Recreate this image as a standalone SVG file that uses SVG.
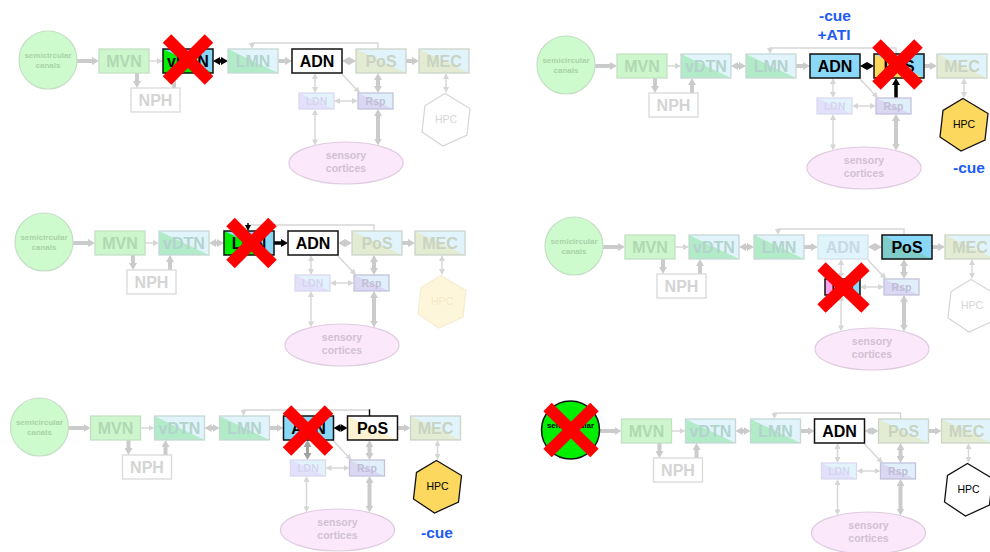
<svg xmlns="http://www.w3.org/2000/svg" width="990" height="552" viewBox="0 0 990 552">
<style>
text{font-family:"Liberation Sans",Arial,Helvetica,sans-serif;text-anchor:middle}
.lb{font-size:16px;font-weight:bold}
.sl{font-size:10.5px;font-weight:bold}
.hx{font-size:10.5px}
.cn{font-size:8px;font-weight:bold}
.se{font-size:10.5px;font-weight:bold}
.cue{font-size:15.5px;font-weight:bold;fill:#1f5cf6}
.k{fill:none;stroke:#cbcbcb;stroke-width:4}
.t{fill:none;stroke:#d6d6d6;stroke-width:1.4}
.kb{fill:none;stroke:#000;stroke-width:3.5}
.tb{fill:none;stroke:#000;stroke-width:1.4}
.km{fill:none;stroke:#a2a2a2;stroke-width:3}
.on{stroke:#111;stroke-width:1.5}
.onf{fill:none;stroke:#111;stroke-width:1.5}
.fb{fill:none;stroke-width:1.3}
.xm line{stroke:#ff0000;stroke-width:12}
</style>
<defs>
<marker id="hg" markerUnits="userSpaceOnUse" markerWidth="8" markerHeight="8" refX="1" refY="4" orient="auto-start-reverse"><path d="M0,0L7,4L0,8Z" fill="#cbcbcb"/></marker>
<marker id="hk" markerUnits="userSpaceOnUse" markerWidth="8" markerHeight="8" refX="1" refY="4" orient="auto-start-reverse"><path d="M0,0L7,4L0,8Z" fill="#000"/></marker>
<marker id="hm" markerUnits="userSpaceOnUse" markerWidth="8" markerHeight="8" refX="1" refY="4" orient="auto-start-reverse"><path d="M0,0L7,4L0,8Z" fill="#a2a2a2"/></marker>
<marker id="sg" markerUnits="userSpaceOnUse" markerWidth="6" markerHeight="6" refX="1" refY="3" orient="auto-start-reverse"><path d="M0,0L6,3L0,6Z" fill="#d6d6d6"/></marker>
<marker id="sk" markerUnits="userSpaceOnUse" markerWidth="6" markerHeight="6" refX="1" refY="3" orient="auto-start-reverse"><path d="M0,0L6,3L0,6Z" fill="#000"/></marker>
</defs>

<!-- ===== Panel 1: vDTN lesion ===== -->
<g id="panel-1">
<g id="p1-connectors">
<path class="k" d="M77,61H93" marker-end="url(#hg)"/>
<path class="t" d="M149,61H158" marker-end="url(#sg)"/>
<path class="k" d="M137,73V82" marker-end="url(#hg)"/>
<path class="k" d="M174,88V79" marker-end="url(#hg)"/>
<path class="kb" d="M219,61H222" marker-start="url(#hk)" marker-end="url(#hk)"/>
<path class="k" d="M277,61H286" marker-end="url(#hg)"/>
<path class="k" d="M348,61H350" marker-start="url(#hg)" marker-end="url(#hg)"/>
<path class="k" d="M406,61H413" marker-end="url(#hg)"/>
<path class="t" d="M378,49V43H252V44" marker-end="url(#sg)"/>
<path class="t" d="M315,78V88" marker-start="url(#sg)" marker-end="url(#sg)"/>
<path class="t" d="M342,74L356.6,89.4" marker-end="url(#sg)"/>
<path class="k" d="M378,79V87" marker-start="url(#hg)" marker-end="url(#hg)"/>
<path class="t" d="M339,101H353" marker-start="url(#sg)" marker-end="url(#sg)"/>
<path class="t" d="M315,114V140.4" marker-start="url(#sg)" marker-end="url(#sg)"/>
<path class="k" d="M378,115V139.6" marker-start="url(#hg)" marker-end="url(#hg)"/>
<path class="t" d="M446,78V88" marker-start="url(#sg)" marker-end="url(#sg)"/>
</g>
<g id="p1-canals"><circle cx="48" cy="60" r="29" fill="#cdfbcd" stroke="#c5dfc5" stroke-width="1.2"/><text class="cn" x="48" y="58" fill="#a9d2a9">semicircular</text><text class="cn" x="48" y="68" fill="#a9d2a9">canals</text></g>
<g id="p1-mvn"><rect x="99" y="49" width="50" height="24" fill="#cdf6cd" stroke="#c3e0c3" stroke-width="1.3"/><text class="lb" x="124" y="66.7" fill="#b1d8b1">MVN</text></g>
<g id="p1-nph"><rect x="131" y="88" width="49" height="24" fill="#fff" stroke="#d9d9d9" stroke-width="1.3"/><text class="lb" x="155.5" y="105.7" fill="#d4d4d4">NPH</text></g>
<g id="p1-vdtn"><rect x="163" y="49" width="50" height="24" fill="#8ad8f8"/><path d="M163,49L213,73H163Z" fill="#00ee00"/><rect x="163" y="49" width="50" height="24" class="onf"/><text class="lb" x="188" y="66.7" fill="#000">vDTN</text></g>
<g id="p1-lmn"><rect x="228" y="49" width="50" height="24" fill="#e1f4fb"/><path d="M228,49L278,73H228Z" fill="#b2ebc7"/><rect x="228" y="49" width="50" height="24" class="fb" stroke="#c5d8d4"/><text class="lb" x="253" y="66.7" fill="#b3d3cd">LMN</text></g>
<g id="p1-adn"><rect x="292" y="49" width="50" height="24" fill="#fff" class="on"/><text class="lb" x="317" y="66.7" fill="#000">ADN</text></g>
<g id="p1-pos"><rect x="356" y="49" width="50" height="24" fill="#e1f4fb"/><path d="M356,49L406,73H356Z" fill="#e3ebd3"/><rect x="356" y="49" width="50" height="24" class="fb" stroke="#cbd5c8"/><text class="lb" x="381" y="66.7" fill="#c8d3c2">PoS</text></g>
<g id="p1-mec"><rect x="419" y="49" width="50" height="24" fill="#e1f4fb"/><path d="M419,49L469,73H419Z" fill="#e3ebd3"/><rect x="419" y="49" width="50" height="24" class="fb" stroke="#cbd5c8"/><text class="lb" x="444" y="66.7" fill="#c8d3c2">MEC</text></g>
<g id="p1-ldn"><rect x="299" y="93" width="35" height="16" fill="#e3f3fc"/><path d="M299,93L334,109H299Z" fill="#e3e0fb"/><rect x="299" y="93" width="35" height="16" class="fb" stroke="#d9d9f0"/><text class="sl" x="316.5" y="104.5" fill="#d5d5f0">LDN</text></g>
<g id="p1-rsp"><rect x="358" y="93" width="35" height="16" fill="#e0effa"/><path d="M358,93L393,109H358Z" fill="#dad7f3"/><rect x="358" y="93" width="35" height="16" class="fb" stroke="#c4c2da"/><text class="sl" x="375.5" y="104.5" fill="#c0bdd6">Rsp</text></g>
<g id="p1-hpc"><polygon points="445,93.5 470,108.5 467,135 443,146 422,132 425,105.5" fill="#fff" stroke="#d5d5d5" stroke-width="1.2"/><text class="hx" x="446" y="123.3" fill="#d6d6d6">HPC</text></g>
<g id="p1-sensory"><ellipse cx="346" cy="163" rx="57" ry="21" fill="#fbe8fb" stroke="#dfcbe0" stroke-width="1.2"/><text class="se" x="346" y="158.5" fill="#d1c1d3">sensory</text><text class="se" x="346" y="171.5" fill="#d1c1d3">cortices</text></g>
<g class="xm" transform="translate(188,59.5)"><line x1="-21" y1="-21" x2="21" y2="21"/><line x1="21" y1="-21" x2="-21" y2="21"/></g>
</g>

<!-- ===== Panel 2: PoS lesion ===== -->
<g id="panel-2" transform="translate(518,5)">
<g id="p2-connectors">
<path class="k" d="M77,61H93" marker-end="url(#hg)"/>
<path class="t" d="M149,61H158" marker-end="url(#sg)"/>
<path class="k" d="M137,73V82" marker-end="url(#hg)"/>
<path class="k" d="M174,88V79" marker-end="url(#hg)"/>
<path class="k" d="M219,61H222" marker-start="url(#hg)" marker-end="url(#hg)"/>
<path class="k" d="M277,61H286" marker-end="url(#hg)"/>
<path class="kb" d="M348,61H350" marker-start="url(#hk)" marker-end="url(#hk)"/>
<path class="k" d="M406,61H413" marker-end="url(#hg)"/>
<path class="t" d="M378,49V43H252V44" marker-end="url(#sg)"/>
<path class="t" d="M315,78V88" marker-start="url(#sg)" marker-end="url(#sg)"/>
<path class="t" d="M342,74L356.6,89.4" marker-end="url(#sg)"/>
<path class="kb" d="M378,93V79" marker-end="url(#hk)"/>
<path class="t" d="M339,101H353" marker-start="url(#sg)" marker-end="url(#sg)"/>
<path class="t" d="M315,114V140.4" marker-start="url(#sg)" marker-end="url(#sg)"/>
<path class="k" d="M378,115V139.6" marker-start="url(#hg)" marker-end="url(#hg)"/>
<path class="t" d="M446,78V88" marker-start="url(#sg)" marker-end="url(#sg)"/>
</g>
<g id="p2-canals"><circle cx="48" cy="60" r="29" fill="#cdfbcd" stroke="#c5dfc5" stroke-width="1.2"/><text class="cn" x="48" y="58" fill="#a9d2a9">semicircular</text><text class="cn" x="48" y="68" fill="#a9d2a9">canals</text></g>
<g id="p2-mvn"><rect x="99" y="49" width="50" height="24" fill="#cdf6cd" stroke="#c3e0c3" stroke-width="1.3"/><text class="lb" x="124" y="66.7" fill="#b1d8b1">MVN</text></g>
<g id="p2-nph"><rect x="131" y="88" width="49" height="24" fill="#fff" stroke="#d9d9d9" stroke-width="1.3"/><text class="lb" x="155.5" y="105.7" fill="#d4d4d4">NPH</text></g>
<g id="p2-vdtn"><rect x="163" y="49" width="50" height="24" fill="#e1f4fb"/><path d="M163,49L213,73H163Z" fill="#b2ebc7"/><rect x="163" y="49" width="50" height="24" class="fb" stroke="#c5d8d4"/><text class="lb" x="188" y="66.7" fill="#b3d3cd">vDTN</text></g>
<g id="p2-lmn"><rect x="228" y="49" width="50" height="24" fill="#e1f4fb"/><path d="M228,49L278,73H228Z" fill="#b2ebc7"/><rect x="228" y="49" width="50" height="24" class="fb" stroke="#c5d8d4"/><text class="lb" x="253" y="66.7" fill="#b3d3cd">LMN</text></g>
<g id="p2-adn"><rect x="292" y="49" width="50" height="24" fill="#8ad8f8" class="on"/><text class="lb" x="317" y="66.7" fill="#000">ADN</text></g>
<g id="p2-pos"><rect x="356" y="49" width="50" height="24" fill="#8ad8f8"/><path d="M356,49L406,73H356Z" fill="#fdd85f"/><rect x="356" y="49" width="50" height="24" class="onf"/><text class="lb" x="381" y="66.7" fill="#000">PoS</text></g>
<g id="p2-mec"><rect x="419" y="49" width="50" height="24" fill="#e1f4fb"/><path d="M419,49L469,73H419Z" fill="#e3ebd3"/><rect x="419" y="49" width="50" height="24" class="fb" stroke="#cbd5c8"/><text class="lb" x="444" y="66.7" fill="#c8d3c2">MEC</text></g>
<g id="p2-ldn"><rect x="299" y="93" width="35" height="16" fill="#e3f3fc"/><path d="M299,93L334,109H299Z" fill="#e3e0fb"/><rect x="299" y="93" width="35" height="16" class="fb" stroke="#d9d9f0"/><text class="sl" x="316.5" y="104.5" fill="#d5d5f0">LDN</text></g>
<g id="p2-rsp"><rect x="358" y="93" width="35" height="16" fill="#e0effa"/><path d="M358,93L393,109H358Z" fill="#dad7f3"/><rect x="358" y="93" width="35" height="16" class="fb" stroke="#c4c2da"/><text class="sl" x="375.5" y="104.5" fill="#c0bdd6">Rsp</text></g>
<g id="p2-hpc"><polygon points="445,93.5 470,108.5 467,135 443,146 422,132 425,105.5" fill="#fdd85f" stroke="#111" stroke-width="1.3"/><text class="hx" x="446" y="123.3" fill="#000">HPC</text></g>
<g id="p2-sensory"><ellipse cx="346" cy="163" rx="57" ry="21" fill="#fbe8fb" stroke="#dfcbe0" stroke-width="1.2"/><text class="se" x="346" y="158.5" fill="#d1c1d3">sensory</text><text class="se" x="346" y="171.5" fill="#d1c1d3">cortices</text></g>
<text class="cue" x="317" y="16">-cue</text>
<text class="cue" x="316" y="35">+ATI</text>
<text class="cue" x="451" y="168">-cue</text>
<g class="xm" transform="translate(379.5,59.5)"><line x1="-21" y1="-21" x2="21" y2="21"/><line x1="21" y1="-21" x2="-21" y2="21"/></g>
</g>

<!-- ===== Panel 3: LMN lesion ===== -->
<g id="panel-3" transform="translate(-4,182)">
<g id="p3-connectors">
<path class="k" d="M77,61H93" marker-end="url(#hg)"/>
<path class="t" d="M149,61H158" marker-end="url(#sg)"/>
<path class="k" d="M137,73V82" marker-end="url(#hg)"/>
<path class="k" d="M174,88V79" marker-end="url(#hg)"/>
<path class="k" d="M219,61H222" marker-start="url(#hg)" marker-end="url(#hg)"/>
<path class="kb" d="M277,61H286" marker-end="url(#hk)"/>
<path class="k" d="M348,61H350" marker-start="url(#hg)" marker-end="url(#hg)"/>
<path class="k" d="M406,61H413" marker-end="url(#hg)"/>
<path class="t" d="M378,49V43H252"/>
<path class="tb" d="M252,41V44" marker-end="url(#sk)"/>
<path class="t" d="M315,78V88" marker-start="url(#sg)" marker-end="url(#sg)"/>
<path class="t" d="M342,74L356.6,89.4" marker-end="url(#sg)"/>
<path class="k" d="M378,79V87" marker-start="url(#hg)" marker-end="url(#hg)"/>
<path class="t" d="M339,101H353" marker-start="url(#sg)" marker-end="url(#sg)"/>
<path class="t" d="M315,114V140.4" marker-start="url(#sg)" marker-end="url(#sg)"/>
<path class="k" d="M378,115V139.6" marker-start="url(#hg)" marker-end="url(#hg)"/>
<path class="t" d="M446,78V88" marker-start="url(#sg)" marker-end="url(#sg)"/>
</g>
<g id="p3-canals"><circle cx="48" cy="60" r="29" fill="#cdfbcd" stroke="#c5dfc5" stroke-width="1.2"/><text class="cn" x="48" y="58" fill="#a9d2a9">semicircular</text><text class="cn" x="48" y="68" fill="#a9d2a9">canals</text></g>
<g id="p3-mvn"><rect x="99" y="49" width="50" height="24" fill="#cdf6cd" stroke="#c3e0c3" stroke-width="1.3"/><text class="lb" x="124" y="66.7" fill="#b1d8b1">MVN</text></g>
<g id="p3-nph"><rect x="131" y="88" width="49" height="24" fill="#fff" stroke="#d9d9d9" stroke-width="1.3"/><text class="lb" x="155.5" y="105.7" fill="#d4d4d4">NPH</text></g>
<g id="p3-vdtn"><rect x="163" y="49" width="50" height="24" fill="#e1f4fb"/><path d="M163,49L213,73H163Z" fill="#b2ebc7"/><rect x="163" y="49" width="50" height="24" class="fb" stroke="#c5d8d4"/><text class="lb" x="188" y="66.7" fill="#b3d3cd">vDTN</text></g>
<g id="p3-lmn"><rect x="228" y="49" width="50" height="24" fill="#8ad8f8"/><path d="M228,49L278,73H228Z" fill="#00ee00"/><rect x="228" y="49" width="50" height="24" class="onf"/><text class="lb" x="253" y="66.7" fill="#000">LMN</text></g>
<g id="p3-adn"><rect x="292" y="49" width="50" height="24" fill="#fff" class="on"/><text class="lb" x="317" y="66.7" fill="#000">ADN</text></g>
<g id="p3-pos"><rect x="356" y="49" width="50" height="24" fill="#e1f4fb"/><path d="M356,49L406,73H356Z" fill="#e3ebd3"/><rect x="356" y="49" width="50" height="24" class="fb" stroke="#cbd5c8"/><text class="lb" x="381" y="66.7" fill="#c8d3c2">PoS</text></g>
<g id="p3-mec"><rect x="419" y="49" width="50" height="24" fill="#e1f4fb"/><path d="M419,49L469,73H419Z" fill="#e3ebd3"/><rect x="419" y="49" width="50" height="24" class="fb" stroke="#cbd5c8"/><text class="lb" x="444" y="66.7" fill="#c8d3c2">MEC</text></g>
<g id="p3-ldn"><rect x="299" y="93" width="35" height="16" fill="#e3f3fc"/><path d="M299,93L334,109H299Z" fill="#e3e0fb"/><rect x="299" y="93" width="35" height="16" class="fb" stroke="#d9d9f0"/><text class="sl" x="316.5" y="104.5" fill="#d5d5f0">LDN</text></g>
<g id="p3-rsp"><rect x="358" y="93" width="35" height="16" fill="#e0effa"/><path d="M358,93L393,109H358Z" fill="#dad7f3"/><rect x="358" y="93" width="35" height="16" class="fb" stroke="#c4c2da"/><text class="sl" x="375.5" y="104.5" fill="#c0bdd6">Rsp</text></g>
<g id="p3-hpc"><polygon points="445,93.5 470,108.5 467,135 443,146 422,132 425,105.5" fill="#fef6da" stroke="#f5edd2" stroke-width="1.2"/><text class="hx" x="446" y="123.3" fill="#f3e9c8">HPC</text></g>
<g id="p3-sensory"><ellipse cx="346" cy="163" rx="57" ry="21" fill="#fbe8fb" stroke="#dfcbe0" stroke-width="1.2"/><text class="se" x="346" y="158.5" fill="#d1c1d3">sensory</text><text class="se" x="346" y="171.5" fill="#d1c1d3">cortices</text></g>
<g class="xm" transform="translate(255.5,61)"><line x1="-21" y1="-21" x2="21" y2="21"/><line x1="21" y1="-21" x2="-21" y2="21"/></g>
</g>

<!-- ===== Panel 4: LDN lesion ===== -->
<g id="panel-4" transform="translate(526,186)">
<g id="p4-connectors">
<path class="k" d="M77,61H93" marker-end="url(#hg)"/>
<path class="t" d="M149,61H158" marker-end="url(#sg)"/>
<path class="k" d="M137,73V82" marker-end="url(#hg)"/>
<path class="k" d="M174,88V79" marker-end="url(#hg)"/>
<path class="k" d="M219,61H222" marker-start="url(#hg)" marker-end="url(#hg)"/>
<path class="k" d="M277,61H286" marker-end="url(#hg)"/>
<path class="k" d="M348,61H350" marker-start="url(#hg)" marker-end="url(#hg)"/>
<path class="k" d="M406,61H413" marker-end="url(#hg)"/>
<path class="t" d="M378,49V43H252V44" marker-end="url(#sg)"/>
<path class="t" d="M315,78V88" marker-start="url(#sg)" marker-end="url(#sg)"/>
<path class="t" d="M342,74L356.6,89.4" marker-end="url(#sg)"/>
<path class="k" d="M378,79V87" marker-start="url(#hg)" marker-end="url(#hg)"/>
<path class="t" d="M339,101H353" marker-start="url(#sg)" marker-end="url(#sg)"/>
<path class="t" d="M315,114V140.4" marker-start="url(#sg)" marker-end="url(#sg)"/>
<path class="k" d="M378,115V139.6" marker-start="url(#hg)" marker-end="url(#hg)"/>
<path class="t" d="M446,78V88" marker-start="url(#sg)" marker-end="url(#sg)"/>
</g>
<g id="p4-canals"><circle cx="48" cy="60" r="29" fill="#cdfbcd" stroke="#c5dfc5" stroke-width="1.2"/><text class="cn" x="48" y="58" fill="#a9d2a9">semicircular</text><text class="cn" x="48" y="68" fill="#a9d2a9">canals</text></g>
<g id="p4-mvn"><rect x="99" y="49" width="50" height="24" fill="#cdf6cd" stroke="#c3e0c3" stroke-width="1.3"/><text class="lb" x="124" y="66.7" fill="#b1d8b1">MVN</text></g>
<g id="p4-nph"><rect x="131" y="88" width="49" height="24" fill="#fff" stroke="#d9d9d9" stroke-width="1.3"/><text class="lb" x="155.5" y="105.7" fill="#d4d4d4">NPH</text></g>
<g id="p4-vdtn"><rect x="163" y="49" width="50" height="24" fill="#e1f4fb"/><path d="M163,49L213,73H163Z" fill="#b2ebc7"/><rect x="163" y="49" width="50" height="24" class="fb" stroke="#c5d8d4"/><text class="lb" x="188" y="66.7" fill="#b3d3cd">vDTN</text></g>
<g id="p4-lmn"><rect x="228" y="49" width="50" height="24" fill="#e1f4fb"/><path d="M228,49L278,73H228Z" fill="#b2ebc7"/><rect x="228" y="49" width="50" height="24" class="fb" stroke="#c5d8d4"/><text class="lb" x="253" y="66.7" fill="#b3d3cd">LMN</text></g>
<g id="p4-adn"><rect x="292" y="49" width="50" height="24" fill="#e1f4fc" stroke="#cfe2ea" stroke-width="1.3"/><text class="lb" x="317" y="66.7" fill="#c6dbe6">ADN</text></g>
<g id="p4-pos"><rect x="356" y="49" width="50" height="24" fill="#8ad8f8"/><path d="M356,49L406,73H356Z" fill="#80cccb"/><rect x="356" y="49" width="50" height="24" class="onf"/><text class="lb" x="381" y="66.7" fill="#000">PoS</text></g>
<g id="p4-mec"><rect x="419" y="49" width="50" height="24" fill="#e1f4fb"/><path d="M419,49L469,73H419Z" fill="#e3ebd3"/><rect x="419" y="49" width="50" height="24" class="fb" stroke="#cbd5c8"/><text class="lb" x="444" y="66.7" fill="#c8d3c2">MEC</text></g>
<g id="p4-ldn"><rect x="299" y="93" width="35" height="16" fill="#8ad8f8"/><path d="M299,93L334,109H299Z" fill="#f5a3ef"/><rect x="299" y="93" width="35" height="16" class="onf"/><text class="sl" x="316.5" y="104.5" fill="#000">LDN</text></g>
<g id="p4-rsp"><rect x="358" y="93" width="35" height="16" fill="#e0effa"/><path d="M358,93L393,109H358Z" fill="#dad7f3"/><rect x="358" y="93" width="35" height="16" class="fb" stroke="#c4c2da"/><text class="sl" x="375.5" y="104.5" fill="#c0bdd6">Rsp</text></g>
<g id="p4-hpc"><polygon points="445,93.5 470,108.5 467,135 443,146 422,132 425,105.5" fill="#fff" stroke="#d5d5d5" stroke-width="1.2"/><text class="hx" x="446" y="123.3" fill="#d6d6d6">HPC</text></g>
<g id="p4-sensory"><ellipse cx="346" cy="163" rx="57" ry="21" fill="#fbe8fb" stroke="#dfcbe0" stroke-width="1.2"/><text class="se" x="346" y="158.5" fill="#d1c1d3">sensory</text><text class="se" x="346" y="171.5" fill="#d1c1d3">cortices</text></g>
<g class="xm" transform="translate(317.5,101.5)"><line x1="-22" y1="-21" x2="22" y2="21"/><line x1="22" y1="-21" x2="-22" y2="21"/></g>
</g>

<!-- ===== Panel 5: ADN lesion ===== -->
<g id="panel-5" transform="translate(-8.5,367)">
<g id="p5-connectors">
<path class="k" d="M77,61H93" marker-end="url(#hg)"/>
<path class="t" d="M149,61H158" marker-end="url(#sg)"/>
<path class="k" d="M137,73V82" marker-end="url(#hg)"/>
<path class="k" d="M174,88V79" marker-end="url(#hg)"/>
<path class="k" d="M219,61H222" marker-start="url(#hg)" marker-end="url(#hg)"/>
<path class="k" d="M277,61H286" marker-end="url(#hg)"/>
<path class="kb" d="M348,61H350" marker-start="url(#hk)" marker-end="url(#hk)"/>
<path class="k" d="M406,61H413" marker-end="url(#hg)"/>
<path class="t" d="M378,43H252V44" marker-end="url(#sg)"/>
<path class="tb" d="M378,49V42.3"/>
<path class="km" d="M316,79V87" marker-start="url(#hm)" marker-end="url(#hm)"/>
<path class="t" d="M342,74L356.6,89.4" marker-end="url(#sg)"/>
<path class="k" d="M378,79V87" marker-start="url(#hg)" marker-end="url(#hg)"/>
<path class="t" d="M339,101H353" marker-start="url(#sg)" marker-end="url(#sg)"/>
<path class="t" d="M315,114V140.4" marker-start="url(#sg)" marker-end="url(#sg)"/>
<path class="k" d="M378,115V139.6" marker-start="url(#hg)" marker-end="url(#hg)"/>
<path class="t" d="M446,78V88" marker-start="url(#sg)" marker-end="url(#sg)"/>
</g>
<g id="p5-canals"><circle cx="48" cy="60" r="29" fill="#cdfbcd" stroke="#c5dfc5" stroke-width="1.2"/><text class="cn" x="48" y="58" fill="#a9d2a9">semicircular</text><text class="cn" x="48" y="68" fill="#a9d2a9">canals</text></g>
<g id="p5-mvn"><rect x="99" y="49" width="50" height="24" fill="#cdf6cd" stroke="#c3e0c3" stroke-width="1.3"/><text class="lb" x="124" y="66.7" fill="#b1d8b1">MVN</text></g>
<g id="p5-nph"><rect x="131" y="88" width="49" height="24" fill="#fff" stroke="#d9d9d9" stroke-width="1.3"/><text class="lb" x="155.5" y="105.7" fill="#d4d4d4">NPH</text></g>
<g id="p5-vdtn"><rect x="163" y="49" width="50" height="24" fill="#e1f4fb"/><path d="M163,49L213,73H163Z" fill="#b2ebc7"/><rect x="163" y="49" width="50" height="24" class="fb" stroke="#c5d8d4"/><text class="lb" x="188" y="66.7" fill="#b3d3cd">vDTN</text></g>
<g id="p5-lmn"><rect x="228" y="49" width="50" height="24" fill="#e1f4fb"/><path d="M228,49L278,73H228Z" fill="#b2ebc7"/><rect x="228" y="49" width="50" height="24" class="fb" stroke="#c5d8d4"/><text class="lb" x="253" y="66.7" fill="#b3d3cd">LMN</text></g>
<g id="p5-adn"><rect x="292" y="49" width="50" height="24" fill="#8ad8f8" class="on"/><text class="lb" x="317" y="66.7" fill="#000">ADN</text></g>
<g id="p5-pos"><rect x="356" y="49" width="50" height="24" fill="#fff"/><path d="M356,49L406,73H356Z" fill="#fdf3d3"/><rect x="356" y="49" width="50" height="24" class="onf"/><text class="lb" x="381" y="66.7" fill="#000">PoS</text></g>
<g id="p5-mec"><rect x="419" y="49" width="50" height="24" fill="#e1f4fb"/><path d="M419,49L469,73H419Z" fill="#e3ebd3"/><rect x="419" y="49" width="50" height="24" class="fb" stroke="#cbd5c8"/><text class="lb" x="444" y="66.7" fill="#c8d3c2">MEC</text></g>
<g id="p5-ldn"><rect x="299" y="93" width="35" height="16" fill="#e3f3fc"/><path d="M299,93L334,109H299Z" fill="#e3e0fb"/><rect x="299" y="93" width="35" height="16" class="fb" stroke="#d9d9f0"/><text class="sl" x="316.5" y="104.5" fill="#d5d5f0">LDN</text></g>
<g id="p5-rsp"><rect x="358" y="93" width="35" height="16" fill="#e0effa"/><path d="M358,93L393,109H358Z" fill="#dad7f3"/><rect x="358" y="93" width="35" height="16" class="fb" stroke="#c4c2da"/><text class="sl" x="375.5" y="104.5" fill="#c0bdd6">Rsp</text></g>
<g id="p5-hpc"><polygon points="445,93.5 470,108.5 467,135 443,146 422,132 425,105.5" fill="#fdd85f" stroke="#111" stroke-width="1.3"/><text class="hx" x="446" y="123.3" fill="#000">HPC</text></g>
<g id="p5-sensory"><ellipse cx="346" cy="163" rx="57" ry="21" fill="#fbe8fb" stroke="#dfcbe0" stroke-width="1.2"/><text class="se" x="346" y="158.5" fill="#d1c1d3">sensory</text><text class="se" x="346" y="171.5" fill="#d1c1d3">cortices</text></g>
<text class="cue" x="445.5" y="171">-cue</text>
<g class="xm" transform="translate(316.5,63.5)"><line x1="-21" y1="-21" x2="21" y2="21"/><line x1="21" y1="-21" x2="-21" y2="21"/></g>
</g>

<!-- ===== Panel 6: semicircular canals lesion ===== -->
<g id="panel-6" transform="translate(522.5,370)">
<g id="p6-connectors">
<path class="k" d="M77,61H93" marker-end="url(#hg)"/>
<path class="t" d="M149,61H158" marker-end="url(#sg)"/>
<path class="k" d="M137,73V82" marker-end="url(#hg)"/>
<path class="k" d="M174,88V79" marker-end="url(#hg)"/>
<path class="k" d="M219,61H222" marker-start="url(#hg)" marker-end="url(#hg)"/>
<path class="k" d="M277,61H286" marker-end="url(#hg)"/>
<path class="k" d="M348,61H350" marker-start="url(#hg)" marker-end="url(#hg)"/>
<path class="k" d="M406,61H413" marker-end="url(#hg)"/>
<path class="t" d="M378,49V43H252V44" marker-end="url(#sg)"/>
<path class="t" d="M315,78V88" marker-start="url(#sg)" marker-end="url(#sg)"/>
<path class="t" d="M342,74L356.6,89.4" marker-end="url(#sg)"/>
<path class="k" d="M378,79V87" marker-start="url(#hg)" marker-end="url(#hg)"/>
<path class="t" d="M339,101H353" marker-start="url(#sg)" marker-end="url(#sg)"/>
<path class="t" d="M315,114V140.4" marker-start="url(#sg)" marker-end="url(#sg)"/>
<path class="k" d="M378,115V139.6" marker-start="url(#hg)" marker-end="url(#hg)"/>
<path class="t" d="M446,78V88" marker-start="url(#sg)" marker-end="url(#sg)"/>
</g>
<g id="p6-canals"><circle cx="48" cy="60" r="29" fill="#00ee00" stroke="#111" stroke-width="1.5"/><text class="cn" x="48" y="58" fill="#000">semicircular</text><text class="cn" x="48" y="68" fill="#000">canals</text></g>
<g id="p6-mvn"><rect x="99" y="49" width="50" height="24" fill="#cdf6cd" stroke="#c3e0c3" stroke-width="1.3"/><text class="lb" x="124" y="66.7" fill="#b1d8b1">MVN</text></g>
<g id="p6-nph"><rect x="131" y="88" width="49" height="24" fill="#fff" stroke="#d9d9d9" stroke-width="1.3"/><text class="lb" x="155.5" y="105.7" fill="#d4d4d4">NPH</text></g>
<g id="p6-vdtn"><rect x="163" y="49" width="50" height="24" fill="#e1f4fb"/><path d="M163,49L213,73H163Z" fill="#b2ebc7"/><rect x="163" y="49" width="50" height="24" class="fb" stroke="#c5d8d4"/><text class="lb" x="188" y="66.7" fill="#b3d3cd">vDTN</text></g>
<g id="p6-lmn"><rect x="228" y="49" width="50" height="24" fill="#e1f4fb"/><path d="M228,49L278,73H228Z" fill="#b2ebc7"/><rect x="228" y="49" width="50" height="24" class="fb" stroke="#c5d8d4"/><text class="lb" x="253" y="66.7" fill="#b3d3cd">LMN</text></g>
<g id="p6-adn"><rect x="292" y="49" width="50" height="24" fill="#fff" class="on"/><text class="lb" x="317" y="66.7" fill="#000">ADN</text></g>
<g id="p6-pos"><rect x="356" y="49" width="50" height="24" fill="#e1f4fb"/><path d="M356,49L406,73H356Z" fill="#e3ebd3"/><rect x="356" y="49" width="50" height="24" class="fb" stroke="#cbd5c8"/><text class="lb" x="381" y="66.7" fill="#c8d3c2">PoS</text></g>
<g id="p6-mec"><rect x="419" y="49" width="50" height="24" fill="#e1f4fb"/><path d="M419,49L469,73H419Z" fill="#e3ebd3"/><rect x="419" y="49" width="50" height="24" class="fb" stroke="#cbd5c8"/><text class="lb" x="444" y="66.7" fill="#c8d3c2">MEC</text></g>
<g id="p6-ldn"><rect x="299" y="93" width="35" height="16" fill="#e3f3fc"/><path d="M299,93L334,109H299Z" fill="#e3e0fb"/><rect x="299" y="93" width="35" height="16" class="fb" stroke="#d9d9f0"/><text class="sl" x="316.5" y="104.5" fill="#d5d5f0">LDN</text></g>
<g id="p6-rsp"><rect x="358" y="93" width="35" height="16" fill="#e0effa"/><path d="M358,93L393,109H358Z" fill="#dad7f3"/><rect x="358" y="93" width="35" height="16" class="fb" stroke="#c4c2da"/><text class="sl" x="375.5" y="104.5" fill="#c0bdd6">Rsp</text></g>
<g id="p6-hpc"><polygon points="445,93.5 470,108.5 467,135 443,146 422,132 425,105.5" fill="#fff" stroke="#111" stroke-width="1.3"/><text class="hx" x="446" y="123.3" fill="#000">HPC</text></g>
<g id="p6-sensory"><ellipse cx="346" cy="163" rx="57" ry="21" fill="#fbe8fb" stroke="#dfcbe0" stroke-width="1.2"/><text class="se" x="346" y="158.5" fill="#d1c1d3">sensory</text><text class="se" x="346" y="171.5" fill="#d1c1d3">cortices</text></g>
<g class="xm" transform="translate(48.5,60)"><line x1="-23.5" y1="-23" x2="23.5" y2="23" stroke-width="13"/><line x1="23.5" y1="-23" x2="-23.5" y2="23" stroke-width="13"/></g>
</g>
</svg>
